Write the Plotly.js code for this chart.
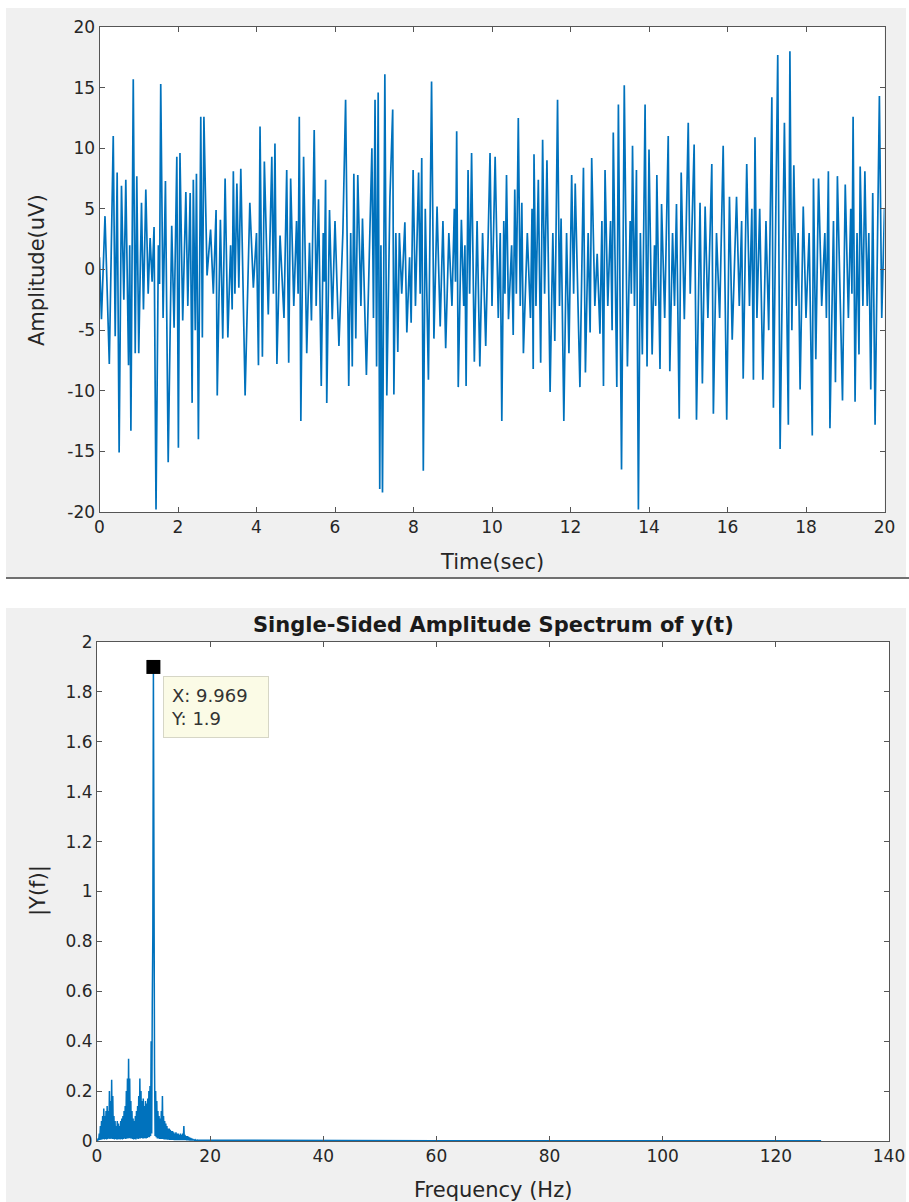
<!DOCTYPE html>
<html>
<head>
<meta charset="utf-8">
<script src="https://cdn.plot.ly/plotly-3.0.1.min.js"></script>
<style>
html,body{margin:0;padding:0;background:#ffffff;}
#chart{width:909px;height:1202px;}
</style>
</head>
<body>
<div id="chart"></div>
<script>
// ---------- Top panel: EEG-like time signal (extremes) ----------
const sigTime = [
0.00,0.05,0.14,0.25,0.35,0.40,0.45,0.50,0.56,0.62,0.67,0.74,0.77,0.80,0.86,0.91,0.95,1.00,1.07,1.12,
1.18,1.24,1.29,1.34,1.39,1.44,1.50,1.53,1.56,1.62,1.68,1.75,1.84,1.90,1.97,2.01,2.05,2.12,2.20,2.25,
2.31,2.36,2.39,2.44,2.47,2.52,2.58,2.62,2.66,2.74,2.83,2.90,2.97,3.00,3.08,3.14,3.20,3.27,3.34,3.38,
3.41,3.45,3.50,3.55,3.60,3.71,3.83,3.92,4.00,4.05,4.09,4.15,4.20,4.30,4.39,4.43,4.47,4.52,4.60,4.70,
4.77,4.82,4.87,4.95,5.02,5.06,5.09,5.13,5.20,5.28,5.35,5.40,5.47,5.52,5.58,5.65,5.70,5.73,5.76,5.79,
5.86,5.93,6.00,6.10,6.20,6.27,6.35,6.40,6.44,6.48,6.53,6.58,6.66,6.70,6.80,6.94,6.98,7.02,7.06,7.10,
7.14,7.17,7.21,7.27,7.32,7.40,7.47,7.50,7.55,7.60,7.64,7.70,7.78,7.83,7.90,7.94,7.99,8.05,8.13,8.17,
8.21,8.25,8.30,8.38,8.46,8.52,8.60,8.68,8.75,8.82,8.90,8.98,9.04,9.07,9.10,9.14,9.22,9.28,9.31,9.34,
9.39,9.43,9.48,9.55,9.62,9.69,9.76,9.84,9.95,10.00,10.08,10.16,10.21,10.25,10.30,10.33,10.37,10.42,10.50,10.54,
10.58,10.62,10.67,10.72,10.76,10.80,10.90,10.98,11.02,11.05,11.07,11.12,11.18,11.24,11.29,11.34,11.40,11.48,11.55,11.60,
11.67,11.72,11.76,11.83,11.90,11.96,12.03,12.08,12.12,12.24,12.33,12.38,12.45,12.50,12.54,12.62,12.68,12.75,12.80,12.84,
12.88,12.95,13.02,13.06,13.09,13.18,13.22,13.30,13.37,13.45,13.52,13.55,13.58,13.63,13.68,13.73,13.78,13.83,13.90,13.95,
14.00,14.08,14.14,14.17,14.20,14.28,14.32,14.40,14.49,14.53,14.60,14.65,14.70,14.77,14.82,14.90,15.00,15.05,15.15,15.21,
15.30,15.36,15.43,15.50,15.60,15.64,15.72,15.80,15.89,15.98,16.05,16.12,16.23,16.30,16.36,16.40,16.49,16.56,16.62,16.66,
16.70,16.75,16.82,16.90,16.98,17.05,17.13,17.17,17.28,17.34,17.45,17.55,17.59,17.64,17.69,17.75,17.80,17.85,17.93,18.00,
18.08,18.16,18.19,18.25,18.32,18.40,18.48,18.52,18.57,18.61,18.70,18.75,18.80,18.93,19.00,19.08,19.14,19.17,19.20,19.25,
19.30,19.35,19.38,19.45,19.50,19.56,19.60,19.65,19.70,19.76,19.87,19.93,20.00
];
const sigAmp = [
1.0,-4.1,4.4,-7.8,11.0,-5.5,8.0,-15.1,6.9,-2.5,7.4,-7.9,2.0,-13.3,15.7,-6.9,7.7,-6.9,5.5,-3.3,
6.6,-2.0,2.6,-1.0,3.5,-19.8,2.0,-1.2,15.3,-4.0,7.3,-15.9,3.6,-4.8,9.3,-14.7,9.6,-4.2,6.4,-3.0,
6.3,-11.0,7.4,-5.0,7.9,-14.0,12.6,-5.6,12.6,-0.5,3.3,-2.0,4.9,-10.4,4.1,-5.7,7.5,-5.6,2.0,-3.3,
8.1,-2.0,7.1,-1.5,8.3,-10.4,5.5,-1.5,3.0,-7.9,11.8,-7.2,8.9,-3.7,9.3,-2.0,10.4,-7.8,2.8,-4.0,
8.2,-7.7,7.5,-3.0,4.0,-2.0,12.6,-12.5,9.3,-6.9,2.2,-4.2,11.5,-3.0,5.8,-9.6,3.0,-1.0,7.4,-11.0,
4.9,-4.1,4.0,-6.3,3.0,14.0,-9.6,3.0,-8.0,7.9,-5.7,7.8,-3.0,4.2,-8.7,10.0,-4.0,14.0,-8.0,14.6,
-18.1,2.0,-18.4,16.1,-10.4,6.0,13.2,-10.3,3.0,-6.8,3.0,-2.0,3.9,-5.2,1.0,-4.4,8.2,-3.0,8.0,-2.0,
9.2,-16.6,5.0,-9.1,15.5,-5.7,5.2,-4.7,4.0,-6.5,3.0,-3.0,5.0,-1.0,11.4,-9.7,4.1,-3.0,2.0,-9.6,
8.2,-2.0,9.6,-7.6,4.0,-8.0,3.0,-6.3,9.6,-3.0,9.3,-4.0,3.0,-12.5,4.0,-2.0,7.8,-4.1,2.0,-5.4,
6.6,-2.0,12.5,-3.0,5.5,-6.9,3.0,-4.0,5.0,-8.2,9.5,-3.0,7.4,-7.7,10.7,-2.0,9.0,-10.1,3.0,-5.9,
14.0,-3.0,4.2,-12.5,3.0,-6.9,7.8,-2.0,7.1,-9.7,8.4,-8.5,3.0,-5.2,9.2,-3.0,1.3,-5.3,4.0,-9.6,
8.2,-3.0,4.0,-5.0,11.3,-9.7,13.6,-16.5,15.2,-8.0,4.0,-2.0,10.2,-3.0,8.2,-19.8,3.0,-7.0,13.6,-8.0,
9.9,-7.0,2.0,-3.0,7.8,-8.2,5.4,-4.0,11.0,-8.4,3.0,-3.0,5.4,-12.3,8.0,-4.1,12.1,-2.0,10.3,-12.4,
5.5,-9.4,5.2,-4.0,8.7,-11.9,3.0,-4.0,10.2,-12.4,6.0,-5.8,6.0,-3.0,4.0,-9.0,8.7,-3.0,5.0,-9.1,
10.9,-4.0,5.0,-9.1,4.0,-5.0,14.2,-11.4,17.7,-14.8,12.1,-12.8,18.0,-5.0,8.6,-3.0,3.0,-9.9,5.2,-4.0,
3.0,-13.7,7.5,-7.4,7.5,-3.0,3.0,-4.0,8.1,-13.1,4.0,-9.3,7.7,-10.8,7.0,-4.0,5.0,-2.0,12.6,-10.9,
3.0,-7.0,8.5,-3.0,8.1,-3.0,3.0,-9.9,6.3,-12.8,14.3,-4.0,5.0
];
const timeTicks = [0,2,4,6,8,10,12,14,16,18,20];
const ampTicks = [-20,-15,-10,-5,0,5,10,15,20];

// ---------- Bottom panel: single-sided amplitude spectrum ----------
const specStep = 0.09969; // Hz per bin
const specAmp = [
0.002,0.002, 0.010,0.003, 0.030,0.004, 0.060,0.005, 0.080,0.006,
0.100,0.008, 0.130,0.006, 0.100,0.008, 0.120,0.006, 0.140,0.008,
0.120,0.010, 0.200,0.008, 0.160,0.010, 0.245,0.008, 0.180,0.008,
0.100,0.006, 0.080,0.008, 0.060,0.006, 0.080,0.006, 0.070,0.008,
0.060,0.006, 0.080,0.008, 0.090,0.006, 0.100,0.008, 0.120,0.010,
0.140,0.008, 0.200,0.010, 0.250,0.010, 0.330,0.012, 0.250,0.010,
0.160,0.010, 0.120,0.008, 0.090,0.006, 0.080,0.008, 0.100,0.006,
0.120,0.010, 0.140,0.008, 0.180,0.010, 0.250,0.010, 0.200,0.012,
0.160,0.010, 0.170,0.010, 0.140,0.012, 0.160,0.010, 0.150,0.012,
0.170,0.015, 0.200,0.015, 0.220,0.020, 0.400,0.030, 0.550,0.830,
1.900,0.450, 0.300,0.020, 0.200,0.015, 0.160,0.010, 0.120,0.010,
0.100,0.008, 0.090,0.008, 0.120,0.008, 0.180,0.008, 0.100,0.006,
0.080,0.006, 0.070,0.006, 0.060,0.005, 0.050,0.005, 0.050,0.004,
0.045,0.004, 0.040,0.004, 0.040,0.004, 0.035,0.003, 0.030,0.003,
0.035,0.003, 0.030,0.003, 0.030,0.003, 0.025,0.003, 0.030,0.003,
0.025,0.003, 0.030,0.003, 0.060,0.003, 0.025,0.003, 0.020,0.002,
0.020,0.002, 0.018,0.002, 0.015,0.002, 0.012,0.002, 0.010,0.002,
0.008,0.002, 0.006,0.002, 0.005,0.002, 0.004,0.002, 0.004,0.002,
0.003
];
const specTailFreq = [20, 30, 45, 60, 80, 100, 115, 128];
const specTailAmp  = [0.003, 0.002, 0.002, 0.0015, 0.0015, 0.001, 0.001, 0.001];
const freqTicks = [0,20,40,60,80,100,120,140];
const specTicks = [0,0.2,0.4,0.6,0.8,1,1.2,1.4,1.6,1.8,2];
const dataTipX = 9.969;
const dataTipY = 1.9;

const specFreq = specAmp.map((_, i) => +(i * specStep).toFixed(4)).concat(specTailFreq);
const specVal = specAmp.concat(specTailAmp);

// ---------- Layout geometry (pixels) ----------
const W = 909, H = 1202;
const px = v => v / W;
const py = v => 1 - v / H;

const tickFont = {family: 'DejaVu Sans, Arial, sans-serif', size: 17, color: '#262626'};
const axCommon = {
  ticks: 'inside', ticklen: 5, tickwidth: 1, tickcolor: '#555555',
  showline: true, linecolor: '#555555', linewidth: 1, mirror: 'ticks',
  showgrid: false, zeroline: false, tickfont: tickFont, fixedrange: true
};

const traces = [
  {x: sigTime, y: sigAmp, type: 'scatter', mode: 'lines', xaxis: 'x', yaxis: 'y',
   line: {color: '#0072BD', width: 1.7}, hoverinfo: 'skip'},
  {x: specFreq, y: specVal, type: 'scatter', mode: 'lines', xaxis: 'x2', yaxis: 'y2',
   line: {color: '#0072BD', width: 1.5}, hoverinfo: 'skip'},
  {x: [dataTipX], y: [dataTipY], type: 'scatter', mode: 'markers', xaxis: 'x2', yaxis: 'y2',
   marker: {symbol: 'square', size: 14, color: '#000000'}, cliponaxis: false, hoverinfo: 'skip'}
];

const titleFont = {family: 'DejaVu Sans, Arial, sans-serif', size: 21, color: '#262626'};
const white = '#ffffff';

const layout = {
  width: W, height: H,
  margin: {l: 0, r: 0, t: 0, b: 0},
  paper_bgcolor: '#f0f0f0', plot_bgcolor: '#ffffff',
  showlegend: false,
  xaxis: Object.assign({}, axCommon, {domain: [px(99.5), px(884.5)], range: [0, 20],
    tickvals: timeTicks, ticktext: timeTicks.map(String), anchor: 'y'}),
  yaxis: Object.assign({}, axCommon, {domain: [py(512), py(27)], range: [-20, 20],
    tickvals: ampTicks, ticktext: ampTicks.map(String), anchor: 'x'}),
  xaxis2: Object.assign({}, axCommon, {domain: [px(97), px(889)], range: [0, 140],
    tickvals: freqTicks, ticktext: freqTicks.map(String), anchor: 'y2'}),
  yaxis2: Object.assign({}, axCommon, {domain: [py(1141), py(642)], range: [0, 2],
    tickvals: specTicks, ticktext: specTicks.map(String), anchor: 'x2'}),
  shapes: [
    {type: 'rect', xref: 'paper', yref: 'paper', x0: 0, x1: 1, y0: py(8), y1: 1,
     fillcolor: white, line: {width: 0}, layer: 'below'},
    {type: 'rect', xref: 'paper', yref: 'paper', x0: 0, x1: 1, y0: py(608), y1: py(578),
     fillcolor: white, line: {width: 0}, layer: 'below'},
    {type: 'rect', xref: 'paper', yref: 'paper', x0: 0, x1: px(6), y0: 0, y1: 1,
     fillcolor: white, line: {width: 0}, layer: 'below'},
    {type: 'rect', xref: 'paper', yref: 'paper', x0: px(906), x1: 1, y0: 0, y1: 1,
     fillcolor: white, line: {width: 0}, layer: 'below'},
    {type: 'line', xref: 'paper', yref: 'paper', x0: px(6), x1: 1, y0: py(578), y1: py(578),
     line: {color: '#707070', width: 2}}
  ],
  annotations: [
    {text: 'Time(sec)', xref: 'paper', yref: 'paper', x: px(492), y: py(562), xanchor: 'center', yanchor: 'middle',
     showarrow: false, font: titleFont},
    {text: 'Amplitude(uV)', xref: 'paper', yref: 'paper', x: px(37), y: py(270), xanchor: 'center', yanchor: 'middle',
     textangle: -90, showarrow: false, font: titleFont},
    {text: '<b>Single-Sided Amplitude Spectrum of y(t)</b>', xref: 'paper', yref: 'paper', x: px(493), y: py(625),
     xanchor: 'center', yanchor: 'middle', showarrow: false,
     font: {family: 'DejaVu Sans, Arial, sans-serif', size: 21, color: '#1a1a1a'}},
    {text: '|Y(f)|', xref: 'paper', yref: 'paper', x: px(38), y: py(891), xanchor: 'center', yanchor: 'middle',
     textangle: -90, showarrow: false, font: titleFont},
    {text: 'Frequency (Hz)', xref: 'paper', yref: 'paper', x: px(493), y: py(1190), xanchor: 'center', yanchor: 'middle',
     showarrow: false, font: titleFont},
    {text: 'X: ' + dataTipX + '<br>Y: ' + dataTipY, xref: 'x2', yref: 'y2', x: dataTipX, y: dataTipY,
     xanchor: 'left', yanchor: 'top', xshift: 10, yshift: -9, showarrow: false, align: 'left',
     width: 90, height: 46, borderpad: 7, bgcolor: '#fbfbe6', bordercolor: '#d6d6c6', borderwidth: 1,
     font: {family: 'DejaVu Sans, Arial, sans-serif', size: 18, color: '#333333'}}
  ]
};

Plotly.newPlot('chart', traces, layout, {staticPlot: true, displayModeBar: false});
</script>
</body>
</html>
